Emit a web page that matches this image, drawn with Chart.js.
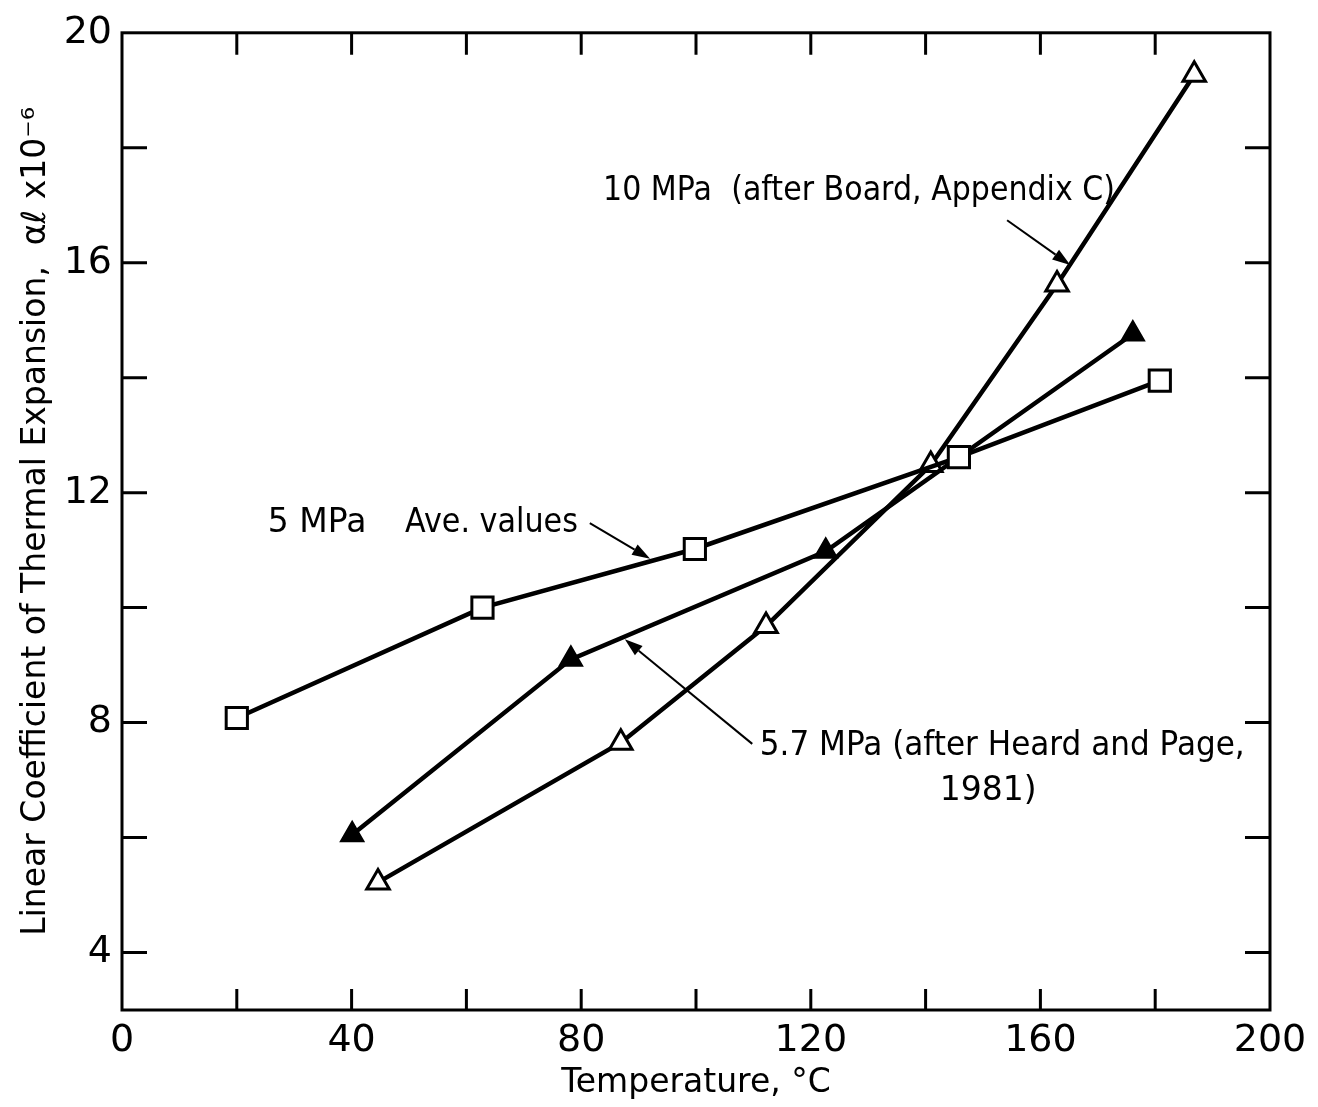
<!DOCTYPE html>
<html>
<head>
<meta charset="utf-8">
<script src="https://cdn.jsdelivr.net/npm/chart.js@4.4.0/dist/chart.umd.min.js"></script>
<style>
  html, body { margin: 0; padding: 0; background: #fff; }
</style>
</head>
<body>
<canvas id="mainChart" width="1318" height="1107"></canvas>
<script>
// 5 MPa, average values (open squares)
const tempAve = [20, 62.8, 99.8, 145.8, 180.8];
const alphaAve = [8.08, 10.0, 11.02, 12.62, 13.95];
// 5.7 MPa, after Heard and Page 1981 (filled triangles)
const tempHeard = [40.1, 78.2, 122.6, 176.1];
const alphaHeard = [6.05, 9.1, 10.98, 14.76];
// 10 MPa, after Board, Appendix C (open triangles)
const tempBoard = [44.6, 86.9, 112.2, 140.9, 162.9, 186.8];
const alphaBoard = [5.22, 7.65, 9.68, 12.48, 15.62, 19.27];

const xTicks = [0, 40, 80, 120, 160, 200];
const yTicks = [4, 8, 12, 16, 20];
const xMinor = [20, 40, 60, 80, 100, 120, 140, 160, 180];
const yMinor = [4, 6, 8, 10, 12, 14, 16, 18];

const toPoints = (xs, ys) => xs.map((x, i) => ({x: x, y: ys[i]}));

const fontFam = '"DejaVu Sans", sans-serif';

// frame box and inward tick marks
const frame = {
    id: 'frame',
    beforeDatasetsDraw(chart) {
        const {ctx, chartArea: a, scales: {x, y}} = chart;
        ctx.save();
        ctx.strokeStyle = '#000';
        ctx.lineWidth = 3;
        ctx.strokeRect(a.left, a.top, a.right - a.left, a.bottom - a.top);
        ctx.beginPath();
        xMinor.forEach(v => {
            const px = x.getPixelForValue(v);
            ctx.moveTo(px, a.bottom); ctx.lineTo(px, a.bottom - 21);
            ctx.moveTo(px, a.top); ctx.lineTo(px, a.top + 22);
        });
        yMinor.forEach(v => {
            const py = y.getPixelForValue(v);
            ctx.moveTo(a.left, py); ctx.lineTo(a.left + 25, py);
            ctx.moveTo(a.right, py); ctx.lineTo(a.right - 25, py);
        });
        ctx.stroke();
        ctx.restore();
    }
};

function arrow(ctx, x1, y1, x2, y2) {
    const ang = Math.atan2(y2 - y1, x2 - x1);
    const len = 18, half = 6;
    const bx = x2 - Math.cos(ang) * len, by = y2 - Math.sin(ang) * len;
    ctx.beginPath();
    ctx.moveTo(x1, y1);
    ctx.lineTo(bx, by);
    ctx.stroke();
    ctx.beginPath();
    ctx.moveTo(x2, y2);
    ctx.lineTo(bx + Math.sin(ang) * half, by - Math.cos(ang) * half);
    ctx.lineTo(bx - Math.sin(ang) * half, by + Math.cos(ang) * half);
    ctx.closePath();
    ctx.fill();
}

// curve labels and their arrows, anchored in data coordinates
const notes = {
    id: 'notes',
    afterDraw(chart) {
        const {ctx, scales: {x, y}} = chart;
        const X = v => x.getPixelForValue(v), Y = v => y.getPixelForValue(v);
        ctx.save();
        ctx.fillStyle = '#000';
        ctx.strokeStyle = '#000';
        ctx.lineWidth = 2;
        ctx.font = '33px ' + fontFam;
        ctx.textBaseline = 'middle';
        ctx.textAlign = 'left';
        ctx.fillText('10 MPa  (after Board, Appendix C)', X(83.8), Y(17.24), 512);
        ctx.fillText('5 MPa', X(25.4), Y(11.46), 105);
        ctx.fillText('Ave. values', X(49.3), Y(11.46), 173);
        ctx.fillText('5.7 MPa (after Heard and Page,', X(111.1), Y(7.59), 485);
        ctx.textAlign = 'center';
        ctx.fillText('1981)', X(150.9), Y(6.81));
        arrow(ctx, X(154.2), Y(16.74), X(165.2), Y(15.96));
        arrow(ctx, X(81.5), Y(11.47), X(92.0), Y(10.85));
        arrow(ctx, X(109.8), Y(7.63), X(87.6), Y(9.45));
        ctx.restore();
    }
};

const ctxMain = document.getElementById('mainChart').getContext('2d');
const chart = new Chart(ctxMain, {
    type: 'scatter',
    data: {
        datasets: [{
            label: '5 MPa Ave. values',
            data: toPoints(tempAve, alphaAve),
            showLine: true,
            borderColor: '#000',
            borderWidth: 4.5,
            pointStyle: 'rect',
            pointRadius: 15,
            pointBorderWidth: 3,
            pointBackgroundColor: '#fff',
            pointBorderColor: '#000'
        }, {
            label: '5.7 MPa (after Heard and Page, 1981)',
            data: toPoints(tempHeard, alphaHeard),
            showLine: true,
            borderColor: '#000',
            borderWidth: 4.5,
            pointStyle: 'triangle',
            pointRadius: 13,
            pointBorderWidth: 2,
            pointBackgroundColor: '#000',
            pointBorderColor: '#000'
        }, {
            label: '10 MPa (after Board, Appendix C)',
            data: toPoints(tempBoard, alphaBoard),
            showLine: true,
            borderColor: '#000',
            borderWidth: 4.5,
            pointStyle: 'triangle',
            pointRadius: 13,
            pointBorderWidth: 3,
            pointBackgroundColor: '#fff',
            pointBorderColor: '#000'
        }]
    },
    options: {
        responsive: false,
        animation: false,
        devicePixelRatio: 1,
        layout: {
            padding: {top: 29, right: 48, left: 0, bottom: 0}
        },
        scales: {
            x: {
                type: 'linear',
                min: 0,
                max: 200,
                afterBuildTicks: s => { s.ticks = xTicks.map(v => ({value: v})); },
                afterFit: s => { s.height = 97; },
                grid: {display: false, drawTicks: false},
                border: {display: false},
                ticks: {
                    color: '#000',
                    padding: 8,
                    maxRotation: 0,
                    font: {family: fontFam, size: 38}
                },
                title: {
                    display: true,
                    text: 'Temperature, °C',
                    color: '#000',
                    font: {family: fontFam, size: 33},
                    padding: {top: 0, bottom: 4}
                }
            },
            y: {
                type: 'linear',
                min: 3,
                max: 20,
                afterBuildTicks: s => { s.ticks = yTicks.map(v => ({value: v})); },
                afterFit: s => { s.width = 122; },
                grid: {display: false, drawTicks: false},
                border: {display: false},
                ticks: {
                    color: '#000',
                    padding: 10,
                    font: {family: fontFam, size: 38}
                },
                title: {
                    display: true,
                    text: 'Linear Coefficient of Thermal Expansion,  αℓ x10⁻⁶',
                    color: '#000',
                    font: {family: fontFam, size: 33},
                    padding: {top: 17, bottom: 0}
                }
            }
        },
        plugins: {
            legend: {display: false},
            tooltip: {enabled: false}
        }
    },
    plugins: [frame, notes]
});
</script>
</body>
</html>
